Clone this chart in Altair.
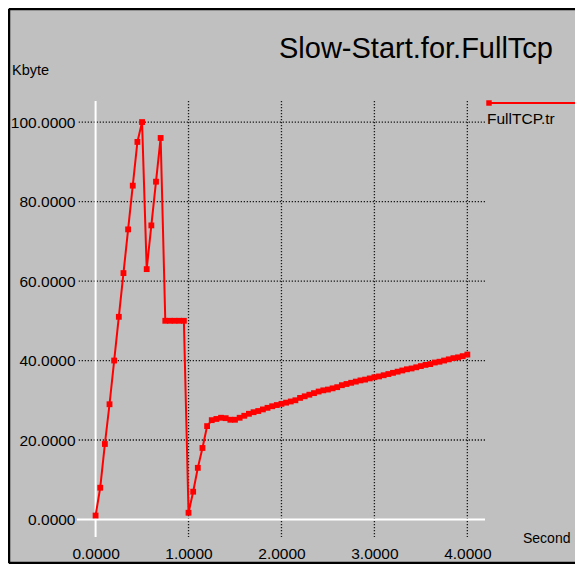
import altair as alt
import pandas as pd

# ---- data ----
t_sec = [0.00, 0.05, 0.10, 0.15, 0.20, 0.25, 0.30, 0.35, 0.40, 0.45, 0.50,
         0.55, 0.60, 0.65, 0.70,
         0.75, 0.80, 0.85, 0.90, 0.95,
         1.00, 1.05, 1.10, 1.15, 1.20, 1.25, 1.30, 1.35, 1.40, 1.45, 1.50,
         1.55, 1.60, 1.65, 1.70, 1.75, 1.80, 1.85, 1.90, 1.95, 2.00,
         2.05, 2.10, 2.15, 2.20, 2.25, 2.30, 2.35, 2.40, 2.45, 2.50,
         2.55, 2.60, 2.65, 2.70, 2.75, 2.80, 2.85, 2.90, 2.95, 3.00,
         3.05, 3.10, 3.15, 3.20, 3.25, 3.30, 3.35, 3.40, 3.45, 3.50,
         3.55, 3.60, 3.65, 3.70, 3.75, 3.80, 3.85, 3.90, 3.95, 4.00]
kbyte = [1.0, 8.0, 19.0, 29.0, 40.0, 51.0, 62.0, 73.0, 84.0, 95.0, 100.0,
         63.0, 74.0, 85.0, 96.0,
         50.0, 50.0, 50.0, 50.0, 50.0,
         1.7, 7.0, 13.0, 18.0, 23.5, 25.0, 25.3, 25.6, 25.5, 25.1, 25.1,
         25.6, 26.1, 26.6, 27.0, 27.3, 27.7, 28.1, 28.5, 28.8, 29.1,
         29.4, 29.7, 30.0, 30.6, 31.0, 31.4, 31.8, 32.2, 32.5, 32.7,
         33.0, 33.3, 33.8, 34.1, 34.4, 34.7, 35.0, 35.2, 35.5, 35.8,
         36.0, 36.3, 36.6, 36.9, 37.2, 37.5, 37.8, 38.0, 38.3, 38.6,
         38.9, 39.1, 39.5, 39.7, 40.0, 40.3, 40.6, 40.8, 41.1, 41.5]

x_ticks = [0, 1, 2, 3, 4]
y_ticks = [0, 20, 40, 60, 80, 100]
x_grid = [1, 2, 3, 4]
y_grid = [20, 40, 60, 80, 100]

title_text = "Slow-Start.for.FullTcp"
y_title = "Kbyte"
x_title = "Second"
series_name = "FullTCP.tr"

FONT = "Liberation Sans, Arial, sans-serif"
RED = "#FF0000"
BG = "#C0C0C0"
W, H = 408, 436
PAD_T, PAD_B, PAD_L, PAD_R = 93, 27, 69, 90

df = pd.DataFrame({"t": t_sec, "kb": kbyte})

xscale = alt.Scale(domain=[-0.2, 4.19], nice=False, zero=False)
yscale = alt.Scale(domain=[-4.4, 105.3], nice=False, zero=False)

xaxis = alt.Axis(values=x_ticks, format=".4f", grid=False, domain=False, ticks=False,
                 title=None, labelFont=FONT, labelFontSize=15.5, labelColor="black",
                 labelPadding=9)
yaxis = alt.Axis(values=y_ticks, format=".4f", grid=False, domain=False, ticks=False,
                 title=None, labelFont=FONT, labelFontSize=15.5, labelColor="black",
                 labelPadding=2)

base = alt.Chart(df)

hgrid = alt.Chart(pd.DataFrame({"v": y_grid})).mark_rule(
    color="#1a1a1a", strokeWidth=1.3, strokeDash=[1.3, 1.7]
).encode(y=alt.Y("v:Q", scale=yscale, axis=yaxis))

vgrid = alt.Chart(pd.DataFrame({"v": x_grid})).mark_rule(
    color="#1a1a1a", strokeWidth=1.3, strokeDash=[1.3, 1.7]
).encode(x=alt.X("v:Q", scale=xscale, axis=xaxis))

zero_h = alt.Chart(pd.DataFrame({"v": [0]})).mark_rule(
    color="white", strokeWidth=2
).encode(y=alt.Y("v:Q", scale=yscale))

zero_v = alt.Chart(pd.DataFrame({"v": [0]})).mark_rule(
    color="white", strokeWidth=2
).encode(x=alt.X("v:Q", scale=xscale))

line = base.mark_line(color=RED, strokeWidth=2).encode(
    x=alt.X("t:Q", scale=xscale, axis=xaxis),
    y=alt.Y("kb:Q", scale=yscale, axis=yaxis),
)
pts = base.mark_square(color=RED, size=34, opacity=1).encode(
    x=alt.X("t:Q", scale=xscale),
    y=alt.Y("kb:Q", scale=yscale),
)

one = pd.DataFrame({"a": [0]})
leg_line = alt.Chart(one).mark_rule(color=RED, strokeWidth=2).encode(
    x=alt.value(410), x2=alt.value(W + PAD_R), y=alt.value(2))
leg_pt = alt.Chart(one).mark_square(color=RED, size=30, opacity=1).encode(
    x=alt.value(412), y=alt.value(2))
leg_txt = alt.Chart(one).mark_text(
    text=series_name, font=FONT, fontSize=15.5, align="left", baseline="alphabetic",
    color="black").encode(x=alt.value(410), y=alt.value(23))

title_mark = alt.Chart(one).mark_text(
    text=title_text, font=FONT, fontSize=29, align="right", baseline="alphabetic",
    color="black").encode(x=alt.value(476), y=alt.value(-43))
ytitle_mark = alt.Chart(one).mark_text(
    text=y_title, font=FONT, fontSize=14.5, align="left", baseline="alphabetic",
    color="black").encode(x=alt.value(-65), y=alt.value(-26))
xtitle_mark = alt.Chart(one).mark_text(
    text=x_title, font=FONT, fontSize=14, align="left", baseline="alphabetic",
    color="black").encode(x=alt.value(446), y=alt.value(442))

frame_top = alt.Chart(one).mark_rule(color="black", strokeWidth=2.5).encode(
    x=alt.value(-68), x2=alt.value(W + PAD_R), y=alt.value(-92))
frame_left = alt.Chart(one).mark_rule(color="black", strokeWidth=2.5).encode(
    x=alt.value(-68), y=alt.value(-92), y2=alt.value(H + PAD_B - 1))
frame_bottom = alt.Chart(one).mark_rule(color="black", strokeWidth=2.5).encode(
    x=alt.value(-68), x2=alt.value(W + PAD_R), y=alt.value(H + PAD_B - 1))

chart = alt.layer(
    hgrid, vgrid, zero_h, zero_v, line, pts,
    leg_line, leg_pt, leg_txt, title_mark, ytitle_mark, xtitle_mark,
    frame_top, frame_left, frame_bottom
).properties(
    width=W, height=H,
    autosize=alt.AutoSizeParams(type="none"),
    padding={"left": PAD_L, "top": PAD_T, "right": PAD_R, "bottom": PAD_B},
    background=BG,
).configure_view(stroke=None)

chart.save("out.html", embed_options={"renderer": "svg", "actions": False})
